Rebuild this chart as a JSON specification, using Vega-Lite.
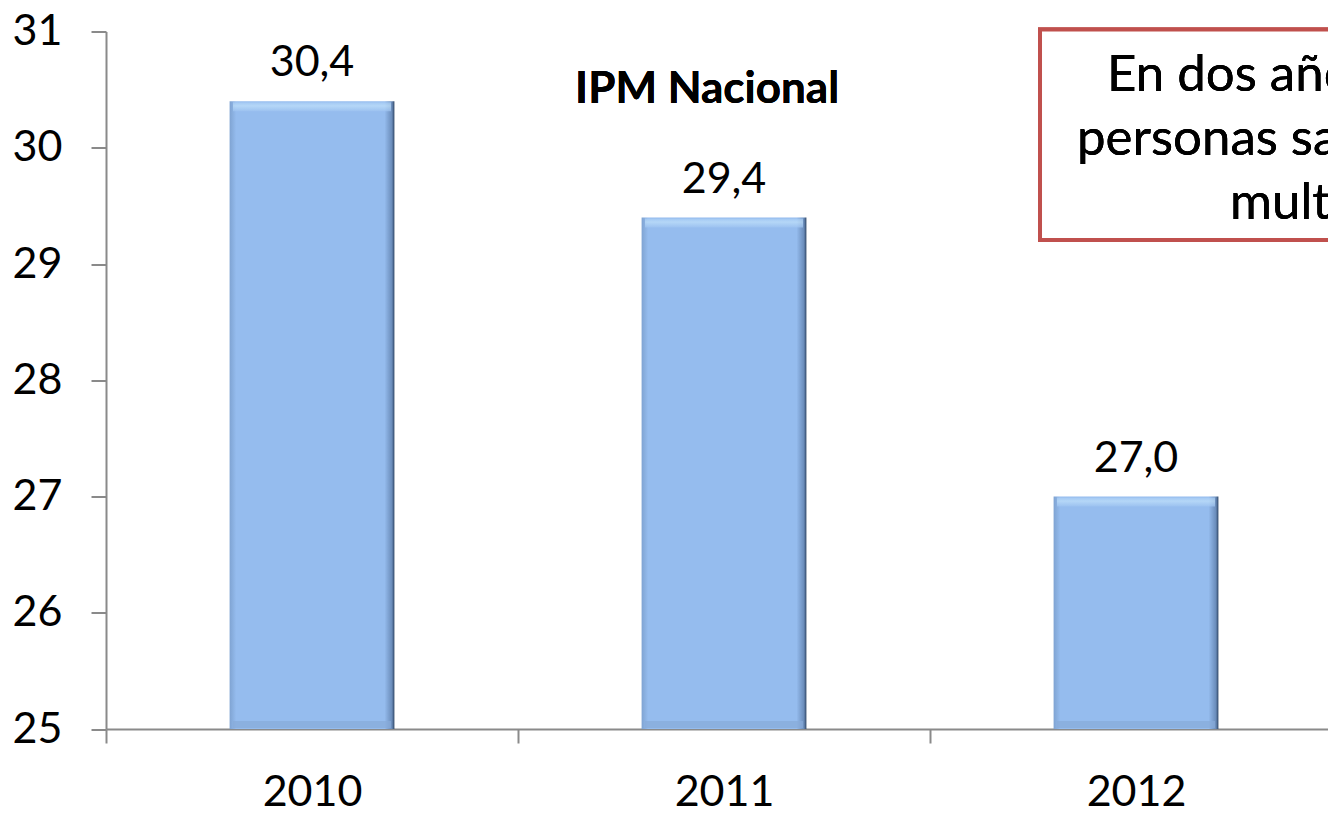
{
  "$schema": "https://vega.github.io/schema/vega-lite/v6.json",
  "width": 1222,
  "height": 697.5,
  "autosize": "none",
  "padding": {"left": 106, "top": 31.5, "right": 0, "bottom": 84},
  "background": "white",
  "config": {"view": {"stroke": null}, "font": "Lato", "text": {"font": "Lato"}},
  "data": {"values": [
    {"year": "2010", "ipm": 30.4, "label": "30,4"},
    {"year": "2011", "ipm": 29.4, "label": "29,4"},
    {"year": "2012", "ipm": 27.0, "label": "27,0"}
  ]},
  "encoding": {
    "x": {
      "field": "year", "type": "ordinal",
      "scale": {"domain": ["2010", "2011", "2012"], "range": [0, 1236], "paddingInner": 0, "paddingOuter": 0},
      "axis": {
        "title": null, "labelAngle": 0, "tickBand": "extent", "tickSize": 14, "tickWidth": 2, "tickColor": "#8a8a8a",
        "domainColor": "#8a8a8a", "domainWidth": 2, "labelFontSize": 43, "labelColor": "#000000", "labelFont": "Lato",
        "labelPadding": 28, "labelBaseline": "top", "grid": false
      }
    }
  },
  "layer": [
    {
      "mark": {"type": "bar", "width": {"band": 0.4},
        "color": {"gradient": "linear", "x1": 0, "x2": 1, "y1": 0, "y2": 0,
          "stops": [
            {"offset": 0, "color": "#7fa3d2"},
            {"offset": 0.04, "color": "#95bcee"},
            {"offset": 0.94, "color": "#95bcee"},
            {"offset": 0.985, "color": "#6a8cba"},
            {"offset": 1, "color": "#2e4565"}
          ]}},
      "encoding": {
        "y": {
          "field": "ipm", "type": "quantitative",
          "scale": {"domain": [25, 31], "nice": false, "zero": false},
          "axis": {
            "title": null, "values": [25, 26, 27, 28, 29, 30, 31], "format": "d", "tickSize": 15, "tickWidth": 2, "tickColor": "#8a8a8a",
            "domainColor": "#8a8a8a", "domainWidth": 2, "labelFontSize": 43, "labelColor": "#000000", "labelFont": "Lato",
            "labelPadding": 29, "grid": false
          }
        },
        "y2": {"datum": 25}
      }
    },
    {
      "mark": {"type": "tick", "orient": "horizontal", "size": 158, "thickness": 9,
        "color": {"gradient": "linear", "x1": 0, "x2": 0, "y1": 0, "y2": 1,
          "stops": [{"offset": 0, "color": "#a9cdf5"}, {"offset": 0.4, "color": "#c2e2fb"}, {"offset": 1, "color": "#9fc4f1"}]}},
      "encoding": {"y": {"field": "ipm", "type": "quantitative"}, "yOffset": {"value": 5.5}}
    },
    {
      "mark": {"type": "tick", "orient": "horizontal", "size": 158, "thickness": 7, "color": "#88abd9"},
      "encoding": {"y": {"datum": 25, "type": "quantitative"}, "yOffset": {"value": -4.5}}
    },
    {
      "mark": {"type": "text", "fontSize": 43, "baseline": "alphabetic", "dy": -25, "color": "#000000"},
      "encoding": {"y": {"field": "ipm", "type": "quantitative"}, "text": {"field": "label"}}
    },
    {
      "mark": {"type": "text", "text": "IPM Nacional", "fontSize": 44, "fontWeight": "bold", "baseline": "alphabetic", "align": "center", "color": "#000000"},
      "encoding": {"x": {"datum": "2011", "bandPosition": 0.459}, "y": {"datum": 30.385, "type": "quantitative"}}
    },
    {
      "mark": {"type": "rect", "fill": "white", "stroke": "#c0504d", "strokeWidth": 4, "clip": false},
      "encoding": {
        "x": {"datum": "2012", "bandPosition": 0.267},
        "x2": {"datum": "2012", "bandPosition": 1.6},
        "y": {"datum": 31.017, "type": "quantitative"},
        "y2": {"datum": 29.206}
      }
    },
    {
      "mark": {"type": "text", "text": "En dos años", "fontSize": 51, "baseline": "alphabetic", "align": "left", "color": "#000000"},
      "encoding": {"x": {"datum": "2012", "bandPosition": 0.4296}, "y": {"datum": 30.484, "type": "quantitative"}}
    },
    {
      "mark": {"type": "text", "text": "personas salieron", "fontSize": 51, "baseline": "alphabetic", "align": "left", "color": "#000000"},
      "encoding": {"x": {"datum": "2012", "bandPosition": 0.3568}, "y": {"datum": 29.938, "type": "quantitative"}}
    },
    {
      "mark": {"type": "text", "text": "multidimensional", "fontSize": 51, "baseline": "alphabetic", "align": "left", "color": "#000000"},
      "encoding": {"x": {"datum": "2012", "bandPosition": 0.728}, "y": {"datum": 29.391, "type": "quantitative"}}
    }
  ]
}
